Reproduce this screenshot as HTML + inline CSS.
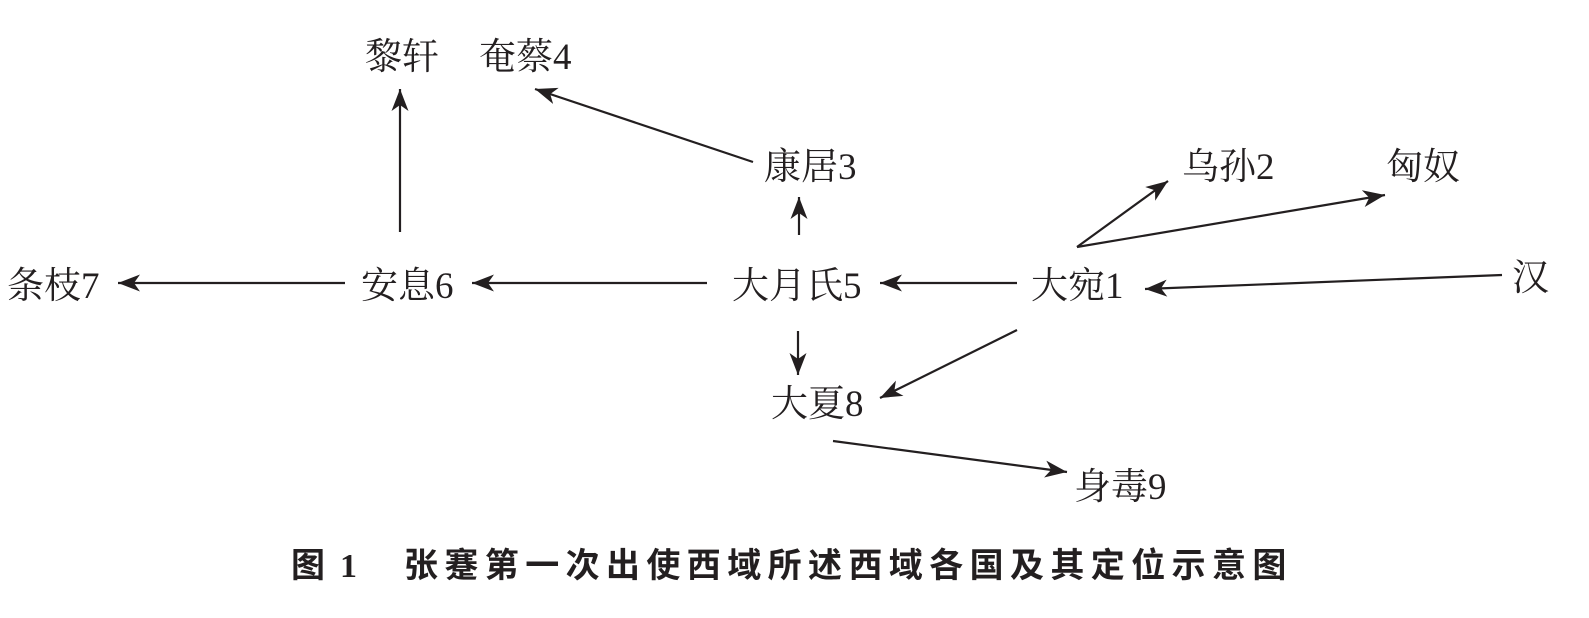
<!DOCTYPE html>
<html>
<head>
<meta charset="utf-8">
<style>
  html, body { margin: 0; padding: 0; background: #ffffff; }
  body { width: 1589px; height: 618px; overflow: hidden; }
  svg { display: block; }
  .lbl { font-family: "Liberation Serif", "Noto Serif CJK SC", serif; font-size: 37px; fill: #231f20; }
  .ttl { font-family: "Noto Sans CJK SC", "WenQuanYi Zen Hei", sans-serif; font-weight: bold; font-size: 34px; fill: #231f20; }
  .num { font-family: "Liberation Serif", serif; font-weight: bold; font-size: 34px; fill: #231f20; }
</style>
</head>
<body>
<svg width="1589" height="618" viewBox="0 0 1589 618" xmlns="http://www.w3.org/2000/svg">
  <defs>
    <marker id="ah" markerWidth="23" markerHeight="18" refX="22" refY="9" orient="auto" markerUnits="userSpaceOnUse" viewBox="0 0 23 18">
      <path d="M0,0.5 L22,9 L0,17.5 L6,9 Z" fill="#231f20"/>
    </marker>
  </defs>

  <g stroke="#231f20" stroke-width="2.2" fill="none" marker-end="url(#ah)">
    <line x1="400" y1="232" x2="400" y2="89"/>
    <line x1="753" y1="162" x2="535" y2="89"/>
    <line x1="799" y1="235" x2="799" y2="197"/>
    <line x1="345" y1="283" x2="118" y2="283"/>
    <line x1="707" y1="283" x2="472" y2="283"/>
    <line x1="1017" y1="283" x2="880" y2="283"/>
    <line x1="1077" y1="247" x2="1168" y2="181"/>
    <line x1="1077" y1="247" x2="1385" y2="195"/>
    <line x1="1502" y1="275" x2="1145" y2="289"/>
    <line x1="798" y1="331" x2="798" y2="375"/>
    <line x1="1017" y1="330" x2="880" y2="398"/>
    <line x1="833" y1="441" x2="1067" y2="472"/>
  </g>

  <g class="lbl">
    <text x="365" y="69">黎轩</text>
    <text x="479" y="69">奄蔡4</text>
    <text x="764" y="179">康居3</text>
    <text x="1182" y="179">乌孙2</text>
    <text x="1386" y="179">匈奴</text>
    <text x="7" y="298">条枝7</text>
    <text x="361" y="298">安息6</text>
    <text x="732" y="298">大月氏5</text>
    <text x="1031" y="298">大宛1</text>
    <text x="1512" y="290">汉</text>
    <text x="771" y="416">大夏8</text>
    <text x="1074" y="499">身毒9</text>
  </g>

  <text class="ttl" x="291" y="577">图</text>
  <text class="num" x="340" y="577">1</text>
  <text class="ttl" y="577" x="404 444.4 484.8 525.2 565.6 606 646.4 686.8 727.2 767.6 808 848.4 888.8 929.2 969.6 1010 1050.4 1090.8 1131.2 1171.6 1212 1252.4">张蹇第一次出使西域所述西域各国及其定位示意图</text>
</svg>
</body>
</html>
